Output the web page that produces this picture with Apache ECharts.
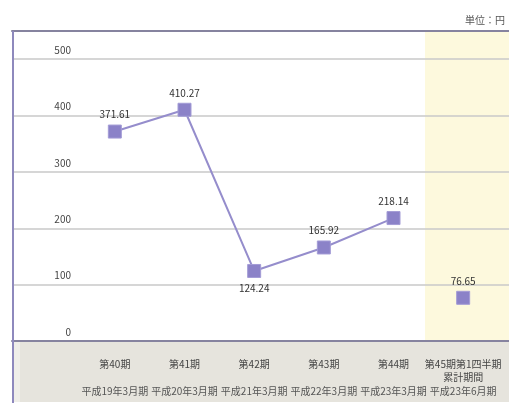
<!DOCTYPE html>
<html>
<head>
<meta charset="utf-8">
<script src="https://cdn.jsdelivr.net/npm/echarts@6/dist/echarts.min.js"></script>
<style>html,body{margin:0;padding:0;background:#fff}#c{width:509px;height:407px}</style>
</head>
<body>
<div id="c"></div>
<script>
const categories = ['第40期', '第41期', '第42期', '第43期', '第44期', '第45期第1四半期'];
const subLines = ['', '', '', '', '', '累計期間'];
const dates = ['平成19年3月期', '平成20年3月期', '平成21年3月期', '平成22年3月期', '平成23年3月期', '平成23年6月期'];
const annualValues = [371.61, 410.27, 124.24, 165.92, 218.14];
const quarterValue = 76.65;
const yTicks = [0, 100, 200, 300, 400, 500];
const unitText = '単位：円';

const FONT = '"Noto Sans CJK JP", "Noto Sans", sans-serif';
const chart = echarts.init(document.getElementById('c'), null, {renderer: 'canvas'});

const lineData = categories.map((c, i) => i < annualValues.length ? {
  value: annualValues[i],
  label: {position: annualValues[i] === Math.min(...annualValues) ? 'bottom' : 'top'}
} : '-');
const quarterData = categories.map((c, i) => i === categories.length - 1 ? quarterValue : '-');

const yMax = 550;
const frameAxis = (pos) => ({gridIndex: 0, type: 'value', min: 0, max: 1, position: pos,
  axisLine: {show: true, onZero: false, lineStyle: {color: '#86839f', width: 2}},
  axisTick: {show: false}, axisLabel: {show: false}, splitLine: {show: false}});

chart.setOption({
  backgroundColor: '#ffffff',
  animation: false,
  graphic: [
    {type: 'rect', z: -10, shape: {x: 0, y: 0, width: 84, height: 309}, right: 0, top: 32, style: {fill: '#fdf9dd'}},
    {type: 'rect', z: -10, shape: {x: 0, y: 0, width: 7, height: 60}, left: 13, top: 342, style: {fill: '#efeee9'}},
    {type: 'rect', z: -10, shape: {x: 0, y: 0, width: 489, height: 60}, left: 20, top: 342, style: {fill: '#e6e4dd'}},
    {type: 'rect', z: 10, shape: {x: 0, y: 0, width: 2, height: 372}, left: 12, top: 31, style: {fill: '#8e89bd'}},
    {type: 'text', right: 4, top: 15, style: {text: unitText, font: '10px ' + FONT, fill: '#555'}}
  ],
  grid: [
    {left: 12, right: 0, top: 31, bottom: 66, show: false, z: 1},
    {left: 80, right: 11, top: 31, bottom: 66, z: 3}
  ],
  xAxis: [
    frameAxis('bottom'),
    frameAxis('top'),
    {gridIndex: 1, type: 'category', data: categories, boundaryGap: true,
      axisLine: {show: false}, axisTick: {show: false},
      axisLabel: {
        margin: 16, interval: 0, verticalAlign: 'top',
        formatter: (v, i) => '{a|' + v + '}\n{a|' + subLines[i] + '}\n{b|' + dates[i] + '}',
        rich: {
          a: {fontSize: 10, fontFamily: FONT, color: '#444', lineHeight: 13.5},
          b: {fontSize: 10, fontFamily: FONT, color: '#555', lineHeight: 13.5}
        }
      }
    }
  ],
  yAxis: [
    {gridIndex: 0, type: 'value', min: 0, max: yMax, interval: 100,
      axisLine: {show: false}, axisTick: {show: false}, axisLabel: {show: false},
      splitLine: {show: true, lineStyle: {color: '#c9c9c9', width: 1.5}}},
    {gridIndex: 1, type: 'value', min: 0, max: yMax, interval: 100,
      axisLine: {show: false}, axisTick: {show: false}, splitLine: {show: false},
      axisLabel: {showMaxLabel: false, margin: 9, verticalAlign: 'bottom', padding: [0, 0, 4, 0],
        fontSize: 10, fontFamily: FONT, color: '#444',
        formatter: v => yTicks.includes(v) ? String(v) : ''}}
  ],
  series: [
    {type: 'line', xAxisIndex: 2, yAxisIndex: 1, data: lineData, z: 5,
      symbol: 'rect', symbolSize: 13,
      lineStyle: {color: '#958dcc', width: 2},
      itemStyle: {color: '#8b82c8', borderColor: '#a39cd6', borderWidth: 1},
      label: {show: true, formatter: p => p.value.toFixed(2), distance: 5,
        fontSize: 10, fontFamily: FONT, color: '#333'}},
    {type: 'line', xAxisIndex: 2, yAxisIndex: 1, data: quarterData, z: 5,
      symbol: 'rect', symbolSize: 13, showAllSymbol: true,
      lineStyle: {width: 0},
      itemStyle: {color: '#8b82c8', borderColor: '#a39cd6', borderWidth: 1},
      label: {show: true, position: 'top', formatter: p => p.value.toFixed(2), distance: 5,
        fontSize: 10, fontFamily: FONT, color: '#333'}}
  ]
});
</script>
</body>
</html>
